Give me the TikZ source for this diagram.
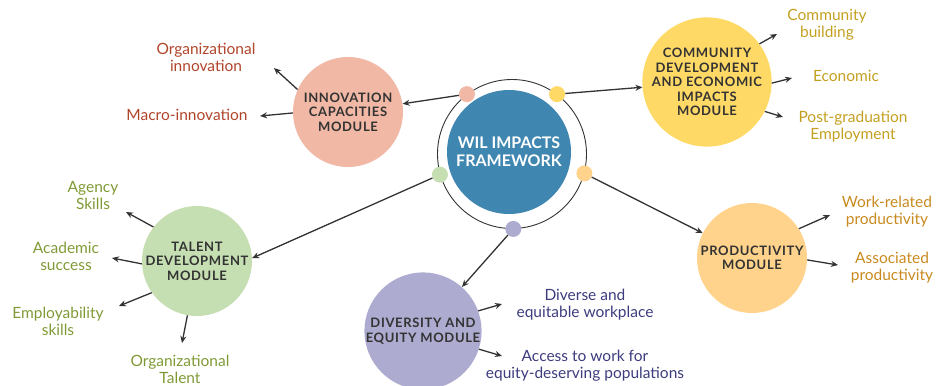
\documentclass[tikz,border=0pt]{standalone}
\usepackage{fontspec}
\setmainfont{Lato}
\usetikzlibrary{arrows.meta, positioning}

\definecolor{corefill}{HTML}{3F86B1}
\definecolor{innovfill}{HTML}{F0B8A5}
\definecolor{innovtext}{HTML}{B0452A}
\definecolor{commfill}{HTML}{FFD966}
\definecolor{commtext}{HTML}{C4A020}
\definecolor{talentfill}{HTML}{C6DFB2}
\definecolor{talenttext}{HTML}{7F9A35}
\definecolor{divfill}{HTML}{AEABD0}
\definecolor{divtext}{HTML}{3C3C7E}
\definecolor{prodfill}{HTML}{FFD38C}
\definecolor{prodtext}{HTML}{C88A1F}
\definecolor{modtext}{HTML}{333333}
\definecolor{linegrey}{HTML}{333333}

\tikzset{
  module/.style={circle, minimum size=110pt, inner sep=0pt, align=center,
    font=\bfseries\fontsize{13}{14.5}\selectfont\addfontfeature{LetterSpace=5}, text=modtext},
  ringdot/.style={circle, minimum size=16pt, inner sep=0pt},
  outcome/.style={align=center, inner sep=0pt, font=\fontsize{15.5}{17}\selectfont},
  arr/.style={draw=linegrey, line width=1.3pt, -{Stealth[length=7pt,width=6pt]}}
}

\begin{document}
\begin{tikzpicture}[x=1pt,y=-1pt]
    \useasboundingbox (0,0) rectangle (949,385);

    % Centre
    \node[circle,draw=linegrey,line width=0.9pt,minimum size=149pt,inner sep=0pt] (ring) at (512,154) {};
    \node[circle,fill=corefill,minimum size=124pt,inner sep=0pt,align=center,
          text=white,font=\bfseries\fontsize{16}{18}\selectfont] (core) at (509,152) {WIL IMPACTS\\FRAMEWORK};
    \node[ringdot,fill=innovfill]  (dinnov)  at (ring.127) {};
    \node[ringdot,fill=commfill]   (dcomm)   at (ring.53) {};
    \node[ringdot,fill=talentfill] (dtalent) at (ring.196) {};
    \node[ringdot,fill=prodfill]   (dprod)   at (ring.-15) {};
    \node[ringdot,fill=divfill]    (ddiv)    at (ring.-89) {};

    % Innovation capacities
    \node[module,fill=innovfill] (innov) at (348,112) {INNOVATION\\CAPACITIES\\MODULE};
    \node[outcome,text=innovtext] (orginnov) at (206,57) {Organizational\\innovation};
    \node[outcome,text=innovtext] (macro) at (187,115) {Macro-innovation};
    \coordinate (torginnov) at (274,68);
    \coordinate (tmacro) at (260,116);
    \draw[arr] (dinnov) -- (innov);
    \draw[arr] (innov.156) -- (torginnov);
    \draw[arr] (innov.181) -- (tmacro);

    % Community development
    \node[module,fill=commfill] (comm) at (707,82) {COMMUNITY\\DEVELOPMENT\\AND ECONOMIC\\IMPACTS\\MODULE};
    \node[outcome,text=commtext] (building) at (827,25) {Community\\building};
    \node[outcome,text=commtext] (economic) at (846,76) {Economic};
    \node[outcome,text=commtext] (postgrad) at (853,127) {Post-graduation\\Employment};
    \coordinate (tbuilding) at (777,34);
    \coordinate (teconomic) at (792,78);
    \coordinate (tpostgrad) at (783,117);
    \draw[arr] (dcomm) -- (comm);
    \draw[arr] (comm.36) -- (tbuilding);
    \draw[arr] (comm.-1) -- (teconomic);
    \draw[arr] (comm.-27) -- (tpostgrad);

    % Talent development
    \node[module,fill=talentfill] (talent) at (197,261) {TALENT\\DEVELOPMENT\\MODULE};
    \node[outcome,text=talenttext] (agency) at (93,196) {Agency\\Skills};
    \node[outcome,text=talenttext] (academic) at (66,256) {Academic\\success};
    \node[outcome,text=talenttext] (employ) at (58,321) {Employability\\skills};
    \node[outcome,text=talenttext] (orgtalent) at (180,369) {Organizational\\Talent};
    \coordinate (tagency) at (126,212);
    \coordinate (tacademic) at (112,258);
    \coordinate (temploy) at (119,306);
    \coordinate (torgtalent) at (182,343);
    \draw[arr] (dtalent) -- (talent.3);
    \draw[arr] (talent.142) -- (tagency);
    \draw[arr] (talent.183) -- (tacademic);
    \draw[arr] (talent.-145) -- (temploy);
    \draw[arr] (talent.-100) -- (torgtalent);

    % Diversity and equity
    \node[module,fill=divfill] (div) at (423,331) {DIVERSITY AND\\EQUITY MODULE};
    \node[outcome,text=divtext] (workplace) at (585,305) {Diverse and\\equitable workplace};
    \node[outcome,text=divtext] (access) at (585,366) {Access to work for\\equity-deserving populations};
    \coordinate (tworkplace) at (502,304);
    \coordinate (taccess) at (502,356);
    \draw[arr] (ddiv) -- (div);
    \draw[arr] (div.20) -- (tworkplace);
    \draw[arr] (div.-18) -- (taccess);

    % Productivity
    \node[module,fill=prodfill] (prod) at (752,258) {PRODUCTIVITY\\MODULE};
    \node[outcome,text=prodtext] (workrel) at (887,212) {Work-related\\productivity};
    \node[outcome,text=prodtext] (assoc) at (892,268) {Associated\\productivity};
    \coordinate (tworkrel) at (830,215);
    \coordinate (tassoc) at (838,265);
    \draw[arr] (dprod) -- (prod);
    \draw[arr] (prod.32) -- (tworkrel);
    \draw[arr] (prod.-2) -- (tassoc);
\end{tikzpicture}
\end{document}
